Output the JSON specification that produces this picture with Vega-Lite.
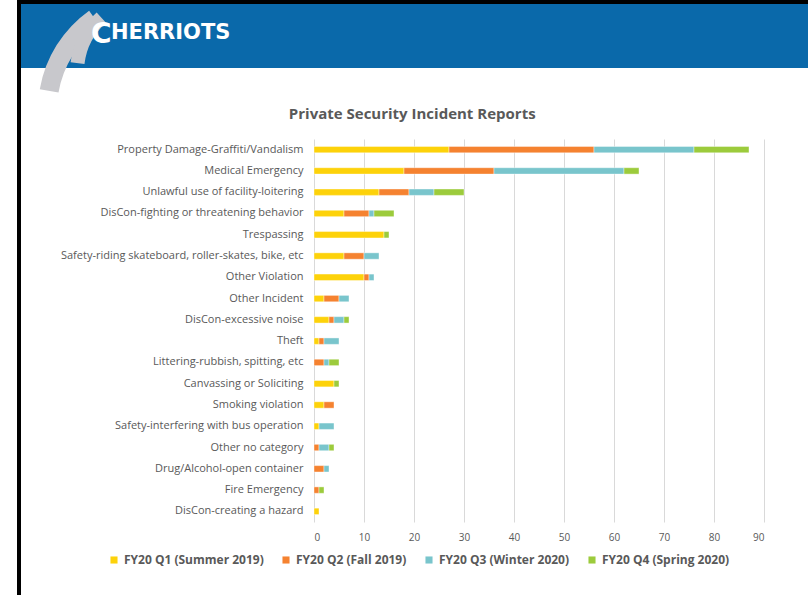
{
  "$schema": "https://vega.github.io/schema/vega-lite/v6.json",
  "background": "white",
  "padding": {"left": 17, "top": 0, "right": 0, "bottom": 0},
  "config": {"view": {"stroke": null}, "font": "Open Sans"},
  "datasets": {
    "incidents": [
      {"cat": "Property Damage-Graffiti/Vandalism", "q": "FY20 Q1 (Summer 2019)", "n": 27},
      {"cat": "Property Damage-Graffiti/Vandalism", "q": "FY20 Q2 (Fall 2019)", "n": 29},
      {"cat": "Property Damage-Graffiti/Vandalism", "q": "FY20 Q3 (Winter 2020)", "n": 20},
      {"cat": "Property Damage-Graffiti/Vandalism", "q": "FY20 Q4 (Spring 2020)", "n": 11},
      {"cat": "Medical Emergency", "q": "FY20 Q1 (Summer 2019)", "n": 18},
      {"cat": "Medical Emergency", "q": "FY20 Q2 (Fall 2019)", "n": 18},
      {"cat": "Medical Emergency", "q": "FY20 Q3 (Winter 2020)", "n": 26},
      {"cat": "Medical Emergency", "q": "FY20 Q4 (Spring 2020)", "n": 3},
      {"cat": "Unlawful use of facility-loitering", "q": "FY20 Q1 (Summer 2019)", "n": 13},
      {"cat": "Unlawful use of facility-loitering", "q": "FY20 Q2 (Fall 2019)", "n": 6},
      {"cat": "Unlawful use of facility-loitering", "q": "FY20 Q3 (Winter 2020)", "n": 5},
      {"cat": "Unlawful use of facility-loitering", "q": "FY20 Q4 (Spring 2020)", "n": 6},
      {"cat": "DisCon-fighting or threatening behavior", "q": "FY20 Q1 (Summer 2019)", "n": 6},
      {"cat": "DisCon-fighting or threatening behavior", "q": "FY20 Q2 (Fall 2019)", "n": 5},
      {"cat": "DisCon-fighting or threatening behavior", "q": "FY20 Q3 (Winter 2020)", "n": 1},
      {"cat": "DisCon-fighting or threatening behavior", "q": "FY20 Q4 (Spring 2020)", "n": 4},
      {"cat": "Trespassing", "q": "FY20 Q1 (Summer 2019)", "n": 14},
      {"cat": "Trespassing", "q": "FY20 Q4 (Spring 2020)", "n": 1},
      {"cat": "Safety-riding skateboard, roller-skates, bike, etc", "q": "FY20 Q1 (Summer 2019)", "n": 6},
      {"cat": "Safety-riding skateboard, roller-skates, bike, etc", "q": "FY20 Q2 (Fall 2019)", "n": 4},
      {"cat": "Safety-riding skateboard, roller-skates, bike, etc", "q": "FY20 Q3 (Winter 2020)", "n": 3},
      {"cat": "Other Violation", "q": "FY20 Q1 (Summer 2019)", "n": 10},
      {"cat": "Other Violation", "q": "FY20 Q2 (Fall 2019)", "n": 1},
      {"cat": "Other Violation", "q": "FY20 Q3 (Winter 2020)", "n": 1},
      {"cat": "Other Incident", "q": "FY20 Q1 (Summer 2019)", "n": 2},
      {"cat": "Other Incident", "q": "FY20 Q2 (Fall 2019)", "n": 3},
      {"cat": "Other Incident", "q": "FY20 Q3 (Winter 2020)", "n": 2},
      {"cat": "DisCon-excessive noise", "q": "FY20 Q1 (Summer 2019)", "n": 3},
      {"cat": "DisCon-excessive noise", "q": "FY20 Q2 (Fall 2019)", "n": 1},
      {"cat": "DisCon-excessive noise", "q": "FY20 Q3 (Winter 2020)", "n": 2},
      {"cat": "DisCon-excessive noise", "q": "FY20 Q4 (Spring 2020)", "n": 1},
      {"cat": "Theft", "q": "FY20 Q1 (Summer 2019)", "n": 1},
      {"cat": "Theft", "q": "FY20 Q2 (Fall 2019)", "n": 1},
      {"cat": "Theft", "q": "FY20 Q3 (Winter 2020)", "n": 3},
      {"cat": "Littering-rubbish, spitting, etc", "q": "FY20 Q2 (Fall 2019)", "n": 2},
      {"cat": "Littering-rubbish, spitting, etc", "q": "FY20 Q3 (Winter 2020)", "n": 1},
      {"cat": "Littering-rubbish, spitting, etc", "q": "FY20 Q4 (Spring 2020)", "n": 2},
      {"cat": "Canvassing or Soliciting", "q": "FY20 Q1 (Summer 2019)", "n": 4},
      {"cat": "Canvassing or Soliciting", "q": "FY20 Q4 (Spring 2020)", "n": 1},
      {"cat": "Smoking violation", "q": "FY20 Q1 (Summer 2019)", "n": 2},
      {"cat": "Smoking violation", "q": "FY20 Q2 (Fall 2019)", "n": 2},
      {"cat": "Safety-interfering with bus operation", "q": "FY20 Q1 (Summer 2019)", "n": 1},
      {"cat": "Safety-interfering with bus operation", "q": "FY20 Q3 (Winter 2020)", "n": 3},
      {"cat": "Other no category", "q": "FY20 Q2 (Fall 2019)", "n": 1},
      {"cat": "Other no category", "q": "FY20 Q3 (Winter 2020)", "n": 2},
      {"cat": "Other no category", "q": "FY20 Q4 (Spring 2020)", "n": 1},
      {"cat": "Drug/Alcohol-open container", "q": "FY20 Q2 (Fall 2019)", "n": 2},
      {"cat": "Drug/Alcohol-open container", "q": "FY20 Q3 (Winter 2020)", "n": 1},
      {"cat": "Fire Emergency", "q": "FY20 Q2 (Fall 2019)", "n": 1},
      {"cat": "Fire Emergency", "q": "FY20 Q4 (Spring 2020)", "n": 1},
      {"cat": "DisCon-creating a hazard", "q": "FY20 Q1 (Summer 2019)", "n": 1}
    ]
  },
  "spacing": 0,
  "vconcat": [
    {
      "width": 791, "height": 4,
      "view": {"fill": "#000000", "stroke": null},
      "data": {"values": []},
      "mark": "text",
      "encoding": {"text": {"value": ""}}
    },
    {
      "spacing": 0,
      "hconcat": [
        {
          "width": 4, "height": 591,
          "view": {"fill": "#000000", "stroke": null},
          "data": {"values": []},
          "mark": "text",
          "encoding": {"text": {"value": ""}}
        },
        {
          "spacing": 14,
          "vconcat": [
            {
              "width": 787, "height": 64,
              "view": {"fill": "#0a69aa", "stroke": null},
              "data": {"values": [{"logo": "CHERRIOTS"}]},
              "layer": [
                {
                  "mark": {"type": "arc", "fill": "#c8c8cc"},
                  "encoding": {
                    "x": {"value": 139}, "y": {"value": 106},
                    "theta": {"value": -1.40}, "theta2": {"value": -0.62},
                    "radius": {"value": 122}, "radius2": {"value": 103}
                  }
                },
                {
                  "mark": {"type": "arc", "fill": "#c8c8cc"},
                  "encoding": {
                    "x": {"value": 129}, "y": {"value": 68},
                    "theta": {"value": -1.45}, "theta2": {"value": -0.73},
                    "radius": {"value": 80}, "radius2": {"value": 66}
                  }
                },
                {
                  "mark": {"type": "text", "font": "DejaVu Sans", "fontWeight": "bold", "fontSize": 28, "color": "#ffffff", "align": "left", "baseline": "alphabetic"},
                  "encoding": {"x": {"value": 70}, "y": {"value": 39}, "text": {"value": "C"}}
                },
                {
                  "mark": {"type": "text", "font": "DejaVu Sans", "fontWeight": "bold", "fontSize": 21, "color": "#ffffff", "align": "left", "baseline": "alphabetic"},
                  "encoding": {"x": {"value": 90}, "y": {"value": 35}, "text": {"value": "HERRIOTS"}}
                }
              ]
            },
            {
              "spacing": 0,
              "hconcat": [
                {
                  "width": 39, "height": 10,
                  "data": {"values": []},
                  "mark": "text",
                  "encoding": {"text": {"value": ""}}
                },
                {
                  "width": 450, "height": 383,
                  "data": {"name": "incidents"},
                  "title": {"text": "Private Security Incident Reports", "font": "Open Sans", "fontSize": 15, "fontWeight": "bold", "color": "#595959", "frame": "bounds", "anchor": "middle", "offset": 17},
                  "mark": {"type": "bar", "stroke": "#ffffff", "strokeWidth": 0.4},
                  "encoding": {
                    "y": {
                      "field": "cat", "type": "nominal",
                      "sort": ["Property Damage-Graffiti/Vandalism", "Medical Emergency", "Unlawful use of facility-loitering", "DisCon-fighting or threatening behavior", "Trespassing", "Safety-riding skateboard, roller-skates, bike, etc", "Other Violation", "Other Incident", "DisCon-excessive noise", "Theft", "Littering-rubbish, spitting, etc", "Canvassing or Soliciting", "Smoking violation", "Safety-interfering with bus operation", "Other no category", "Drug/Alcohol-open container", "Fire Emergency", "DisCon-creating a hazard"],
                      "scale": {"paddingInner": 0.7, "paddingOuter": 0.35},
                      "axis": {"title": null, "labelFont": "Open Sans", "labelFontSize": 11, "labelColor": "#595959", "ticks": false, "domain": false, "labelPadding": 11, "labelLimit": 400}
                    },
                    "x": {
                      "field": "n", "type": "quantitative", "stack": "zero",
                      "scale": {"domain": [0, 90], "nice": false},
                      "axis": {"title": null, "values": [0, 10, 20, 30, 40, 50, 60, 70, 80, 90], "grid": true, "gridColor": "#d9d9d9", "gridWidth": 1, "ticks": false, "domain": false, "labelFont": "Open Sans", "labelFontSize": 10, "labelColor": "#595959", "labelPadding": 10}
                    },
                    "color": {
                      "field": "q", "type": "nominal",
                      "scale": {
                        "domain": ["FY20 Q1 (Summer 2019)", "FY20 Q2 (Fall 2019)", "FY20 Q3 (Winter 2020)", "FY20 Q4 (Spring 2020)"],
                        "range": ["#fdd20a", "#f58230", "#79c5cc", "#9ccb3c"]
                      },
                      "legend": {"orient": "none", "legendX": 91, "legendY": 554, "direction": "horizontal", "title": null, "symbolType": "square", "symbolSize": 50, "symbolStrokeWidth": 0, "labelFont": "Open Sans", "labelFontSize": 12, "labelFontWeight": "bold", "labelColor": "#595959", "columnPadding": 16, "labelLimit": 300, "padding": 0}
                    },
                    "order": {"field": "q", "type": "nominal"}
                  }
                }
              ]
            }
          ]
        }
      ]
    }
  ]
}
